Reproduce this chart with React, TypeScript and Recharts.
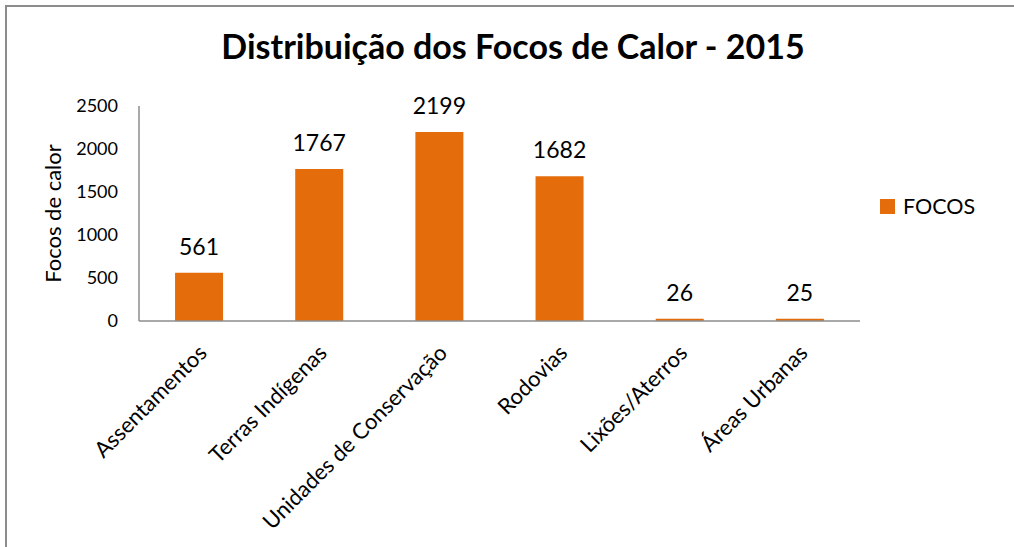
import React from 'react';
import { BarChart, Bar, XAxis, YAxis, Legend, LabelList } from 'recharts';

const categories = [
  'Assentamentos',
  'Terras Indígenas',
  'Unidades de Conservação',
  'Rodovias',
  'Lixões/Aterros',
  'Áreas Urbanas',
];
const focos = [561, 1767, 2199, 1682, 26, 25];
const yTicks = [0, 500, 1000, 1500, 2000, 2500];
const seriesName = 'FOCOS';
const title = 'Distribuição dos Focos de Calor - 2015';
const yLabel = 'Focos de calor';

const data = categories.map((c, i) => ({ name: c, FOCOS: focos[i] }));

const FONT = 'Lato, "Open Sans", sans-serif';
const ORANGE = '#E46C0A';
const AXIS = '#8C8C8C';

const XTick = (props: any) => {
  const { x, y, payload } = props;
  return (
    <text
      x={x}
      y={y}
      dx={-3}
      dy="0.72em"
      transform={`rotate(-45 ${x} ${y})`}
      textAnchor="end"
      fontSize={22}
      fontFamily={FONT}
      fill="#000"
    >
      {payload.value}
    </text>
  );
};

const YLabel = (props: any) => {
  const vb = props.viewBox || {};
  const cx = vb.x + 12;
  const cy = vb.y + vb.height / 2;
  return (
    <text
      x={cx}
      y={cy}
      transform={`rotate(-90 ${cx} ${cy})`}
      textAnchor="middle"
      dominantBaseline="central"
      fontSize={22}
      fontFamily={FONT}
      fill="#000"
    >
      {yLabel}
    </text>
  );
};

const LegendContent = (props: any) => {
  const { payload } = props;
  return (
    <div style={{ fontFamily: FONT }}>
      {(payload || []).map((p: any) => (
        <div key={p.value} style={{ display: 'flex', alignItems: 'center' }}>
          <span
            style={{ width: 15, height: 15, background: p.color, display: 'inline-block', marginRight: 8 }}
          />
          <span style={{ fontSize: 21.5, color: '#000' }}>{p.value}</span>
        </div>
      ))}
    </div>
  );
};

export default function App() {
  return (
    <div
      style={{
        position: 'absolute',
        left: 0,
        top: 0,
        width: 1014,
        height: 547,
        background: '#fff',
        overflow: 'hidden',
      }}
    >
      <div
        style={{
          position: 'absolute',
          left: 5,
          top: 5,
          width: 1020,
          height: 560,
          borderLeft: `2px solid ${AXIS}`,
          borderTop: `2px solid ${AXIS}`,
        }}
      />
      <div
        style={{
          position: 'absolute',
          left: 513,
          top: 24,
          transform: 'translateX(-50%)',
          whiteSpace: 'nowrap',
          fontFamily: FONT,
          fontWeight: 700,
          fontSize: 34,
          color: '#000',
          lineHeight: '44px',
        }}
      >
        {title}
      </div>
      <div style={{ position: 'absolute', left: 0, top: 0 }}>
        <BarChart
          width={1014}
          height={547}
          data={data}
          margin={{ top: 106, right: 34, bottom: 26, left: 40 }}
          barCategoryGap="30%"
        >
          <XAxis
            dataKey="name"
            interval={0}
            tick={<XTick />}
            tickLine={false}
            tickSize={0}
            tickMargin={20}
            axisLine={{ stroke: AXIS, strokeWidth: 1.5 }}
            height={200}
          />
          <YAxis
            width={99}
            domain={[0, 2500]}
            ticks={yTicks}
            tickLine={false}
            tickSize={0}
            tickMargin={21}
            axisLine={{ stroke: AXIS, strokeWidth: 1.5 }}
            tick={{ fontSize: 18, fontFamily: FONT, fill: '#000' }}
            label={<YLabel />}
          />
          <Legend
            layout="vertical"
            align="right"
            verticalAlign="middle"
            content={<LegendContent />}
            wrapperStyle={{ left: 880, top: 193, width: 120 }}
          />
          <Bar dataKey="FOCOS" name={seriesName} fill={ORANGE} isAnimationActive={false}>
            <LabelList
              dataKey="FOCOS"
              position="top"
              offset={18}
              style={{ fontSize: 23, fontFamily: FONT, fill: '#000' }}
            />
          </Bar>
        </BarChart>
      </div>
    </div>
  );
}
